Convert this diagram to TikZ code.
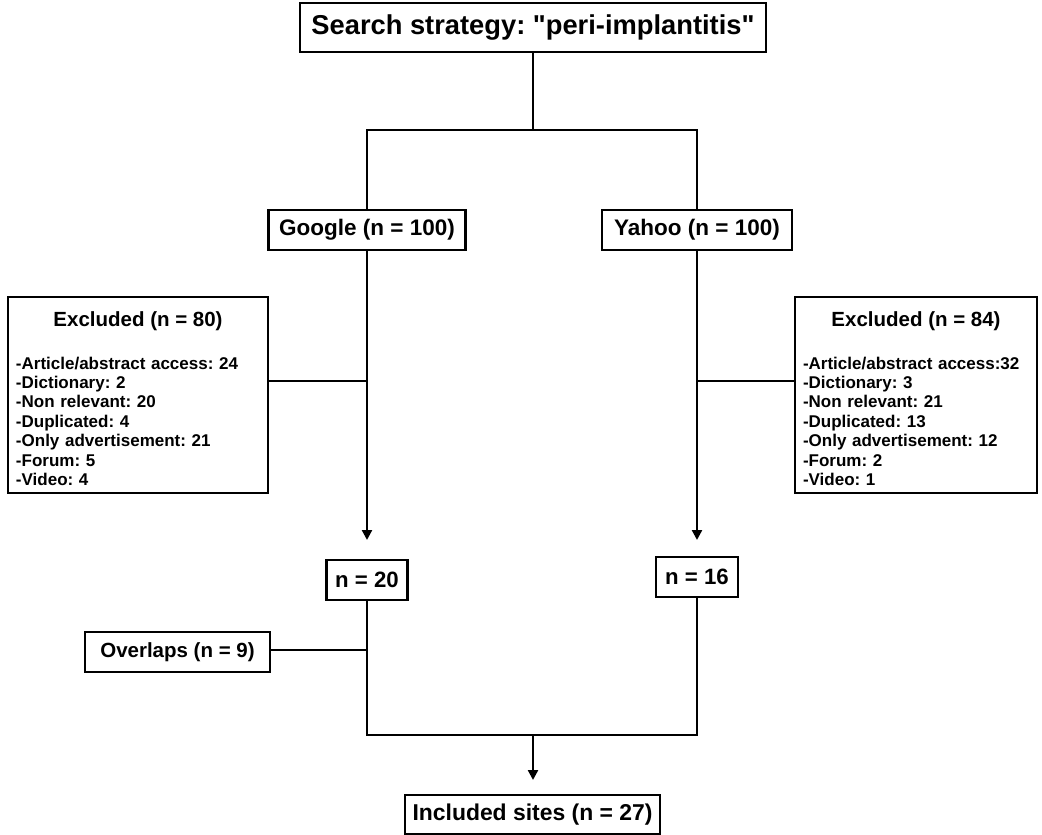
\documentclass[tikz,border=0pt]{standalone}
\usepackage{fontspec}
\setmainfont{Liberation Sans}[Ligatures=TeXOff]
\usetikzlibrary{arrows.meta}
\begin{document}
\frenchspacing
\begin{tikzpicture}[x=1pt,y=-1pt,
  box/.style={draw, line width=2.6pt, inner sep=0pt, font=\bfseries\fontsize{22.5}{26}\selectfont},
  exbox/.style={draw, line width=2.6pt, inner xsep=8pt, inner ysep=0pt, text width=244pt, align=left, minimum height=196pt, font=\bfseries\fontsize{17}{19.4}\selectfont},
  conn/.style={line width=2.3pt},
  arr/.style={line width=2.3pt, -{Triangle[width=10pt,length=10pt]}}]
\useasboundingbox (0,0) rectangle (1042,835);
\node[box, minimum width=466pt, minimum height=49pt, font=\bfseries\fontsize{27.3}{30}\selectfont] (title) at (533,27.5) {Search strategy: "peri-implantitis"};
\node[box, minimum width=197pt, minimum height=40pt] (google) at (367,230) {Google (n = 100)};
\node[box, minimum width=190pt, minimum height=40pt] (yahoo) at (697,230) {Yahoo (n = 100)};
\node[exbox] (exl) at (138,395) {\makebox[244pt]{\rule{0pt}{22pt}\fontsize{20.5}{22}\selectfont Excluded (n = 80)}\\[23.5pt]
-Article/abstract access: 24\\ -Dictionary: 2\\ -Non relevant: 20\\ -Duplicated: 4\\ -Only advertisement: 21\\ -Forum: 5\\ -Video: 4};
\node[exbox, text width=226pt] (exr) at (916,395) {\makebox[226pt]{\rule{0pt}{22pt}\fontsize{20.5}{22}\selectfont Excluded (n = 84)}\\[23.5pt]
-Article/abstract access:32\\ -Dictionary: 3\\ -Non relevant: 21\\ -Duplicated: 13\\ -Only advertisement: 12\\ -Forum: 2\\ -Video: 1};
\node[box, minimum width=81pt, minimum height=40pt, font=\bfseries\fontsize{22.2}{26}\selectfont] (n20) at (367,580) {n = 20};
\node[box, minimum width=82pt, minimum height=40pt, font=\bfseries\fontsize{22.2}{26}\selectfont] (n16) at (697,577) {n = 16};
\node[box, minimum width=185pt, minimum height=40pt, font=\bfseries\fontsize{20.5}{24}\selectfont] (ovl) at (177.5,652) {Overlaps (n = 9)};
\node[box, minimum width=255pt, minimum height=39pt, font=\bfseries\fontsize{22.9}{26}\selectfont] (inc) at (532.5,814.5) {Included sites (n = 27)};
\coordinate (tj) at (533,130);
\coordinate (gj) at (367,381);
\coordinate (yj) at (697,381);
\coordinate (ga) at (367,540);
\coordinate (ya) at (697,540);
\coordinate (oj) at (367,650);
\coordinate (bj) at (533,735);
\coordinate (ba) at (533,780);
\draw[conn] (title.south) -- (tj);
\draw[conn] (google.north) |- (tj) -| (yahoo.north);
\draw[arr] (google.south) -- (ga);
\draw[arr] (yahoo.south) -- (ya);
\draw[conn] (exl.east |- gj) -- (gj);
\draw[conn] (exr.west |- yj) -- (yj);
\draw[conn] (ovl.east |- oj) -- (oj);
\draw[conn] (n20.south) |- (bj) -| (n16.south);
\draw[arr] (bj) -- (ba);
\end{tikzpicture}
\end{document}
